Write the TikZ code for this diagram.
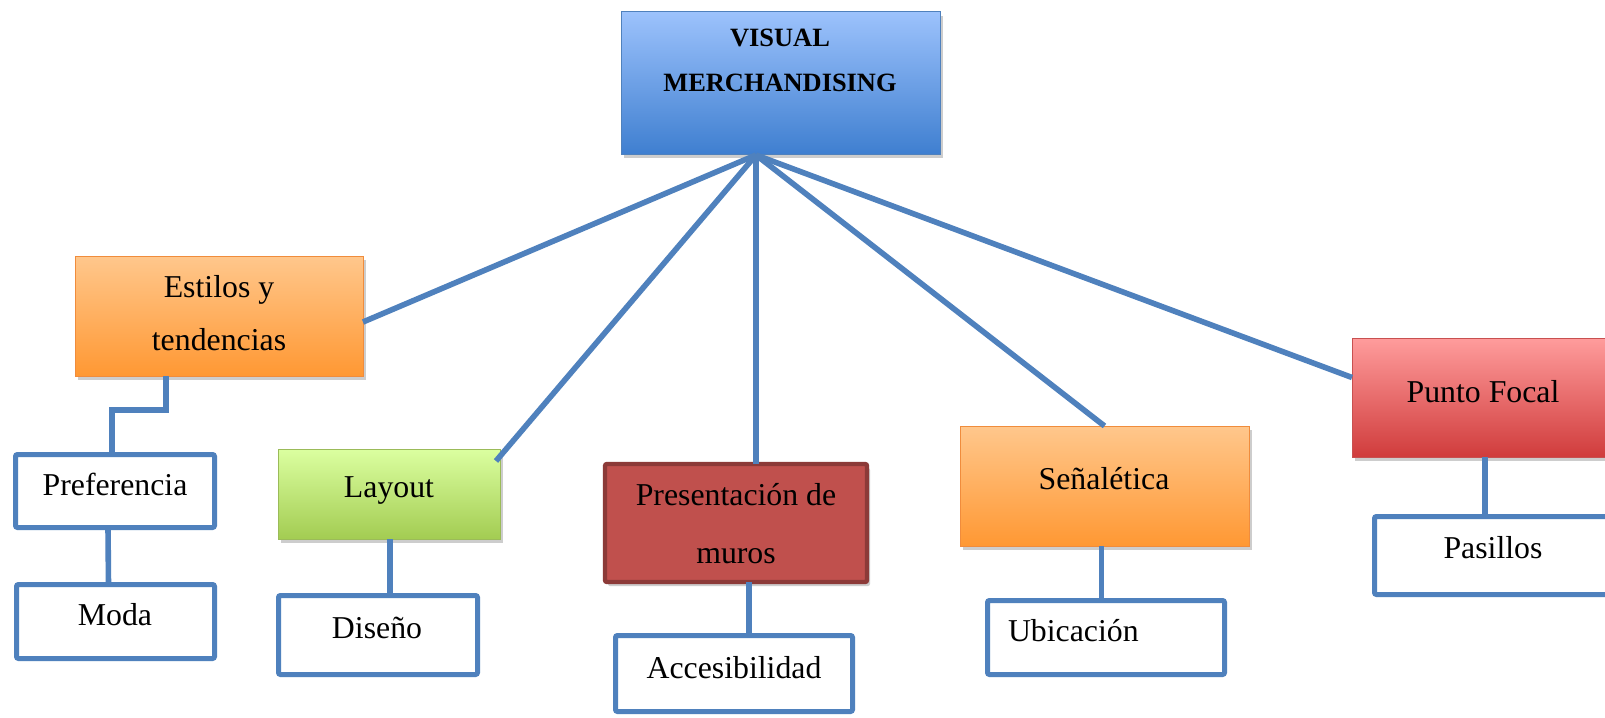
\documentclass[tikz,border=0pt]{standalone}
\usepackage{fontspec}
\setmainfont{Liberation Serif}
\usetikzlibrary{shadows,calc}
\definecolor{cblue}{HTML}{4F81BD}
\definecolor{vmtop}{HTML}{9CC2FC}
\definecolor{vmbot}{HTML}{3F7FD0}
\definecolor{ortop}{HTML}{FFC78C}
\definecolor{orbot}{HTML}{FF9833}
\definecolor{orline}{HTML}{F08C3C}
\definecolor{grtop}{HTML}{DBFFA0}
\definecolor{grbot}{HTML}{A3CC52}
\definecolor{grline}{HTML}{9BBB59}
\definecolor{prfill}{HTML}{C0504D}
\definecolor{prline}{HTML}{8C3A38}
\definecolor{pftop}{HTML}{FF9C9C}
\definecolor{pfbot}{HTML}{D03C3C}
\definecolor{pfline}{HTML}{C85050}
\begin{document}
\begin{tikzpicture}[x=0.5pt,y=-0.5pt,
  basebox/.style={rectangle,inner sep=0pt,outer sep=0pt},
  shad/.style={drop shadow={opacity=0.28,shadow xshift=1.5pt,shadow yshift=-2pt,fill=black!70}},
  wbox/.style={basebox,draw=cblue,line width=2.5pt,fill=white,rounded corners=1pt},
  lbl/.style={inner sep=0pt,outer sep=0pt,anchor=base,font=\fontsize{15.9}{19}\selectfont},
  mlbl/.style={inner sep=0pt,outer sep=0pt,anchor=center,align=center},
  conn/.style={draw=cblue,line width=2.8pt},
]
\fill[white] (0,0) rectangle (1605,717);
\clip (0,0) rectangle (1605,717);
\useasboundingbox (0,0) rectangle (1605,717);

% boxes
\node[basebox,shad,draw=cblue,line width=0.5pt,top color=vmtop,bottom color=vmbot,minimum width=159.5pt,minimum height=71pt] (vm) at (780.5,83) {};
\node[basebox,shad,draw=orline,line width=0.5pt,top color=ortop,bottom color=orbot,minimum width=144pt,minimum height=60pt] (est) at (219,316) {};
\node[basebox,shad,draw=grline,line width=0.5pt,top color=grtop,bottom color=grbot,minimum width=111pt,minimum height=45pt] (lay) at (389,494) {};
\node[basebox,shad,draw=prline,line width=2.2pt,fill=prfill,rounded corners=1pt,minimum width=131pt,minimum height=59pt] (pres) at (736,523) {};
\node[basebox,shad,draw=orline,line width=0.5pt,top color=ortop,bottom color=orbot,minimum width=144.5pt,minimum height=60pt] (sen) at (1104.5,486) {};
\node[basebox,shad,draw=pfline,line width=0.5pt,top color=pftop,bottom color=pfbot,minimum width=131pt,minimum height=59.5pt] (pf) at (1483,397.5) {};

\node[wbox,minimum width=99.5pt,minimum height=36.5pt] (pref) at (115,491) {};
\node[wbox,minimum width=99pt,minimum height=37pt] (moda) at (115.5,621.5) {};
\node[wbox,minimum width=99.5pt,minimum height=39.5pt] (dis) at (378,635) {};
\node[wbox,minimum width=118.5pt,minimum height=38pt] (acc) at (734,673.5) {};
\node[wbox,minimum width=118.5pt,minimum height=37pt] (ubi) at (1106,637.5) {};
\node[wbox,minimum width=118.5pt,minimum height=39pt] (pas) at (1493,555.5) {};

% connectors
\coordinate (hub) at (756,155);
\draw[conn] (hub) -- ($(est.east)+(0,6)$);
\draw[conn] (hub) -- ($(lay.north east)+(-4,12)$);
\draw[conn] (hub) -- (hub |- pres.north);
\draw[conn] (hub) -- (sen.north);
\draw[conn] (hub) -- ($(pf.west)+(0,-20)$);

\coordinate (e1) at (166,410);
\coordinate (e2) at (112,410);
\draw[conn] (est.south -| e1) -- (e1) -- (e2) -- (e2 |- pref.north);
\draw[conn] ([xshift=-3.5pt]pref.south) -- ([xshift=-3.5pt]moda.north);
\draw[conn] ([xshift=0.5pt]lay.south) -- ([xshift=0.5pt]lay.south |- dis.north);
\draw[conn] ([xshift=6.5pt]pres.south) -- ([xshift=6.5pt]pres.south |- acc.north);
\draw[conn] ([xshift=-1.5pt]sen.south) -- ([xshift=-1.5pt]sen.south |- ubi.north);
\draw[conn] ([xshift=1pt]pf.south) -- ([xshift=1pt]pf.south |- pas.north);

% labels
\node[mlbl,font=\fontsize{13.2}{22.5}\selectfont\bfseries] (vmt) at (780,60.5) {VISUAL\\MERCHANDISING};
\node[mlbl,font=\fontsize{15.9}{26.5}\selectfont] (estt) at (219,313.5) {Estilos y\\tendencias};
\node[mlbl,font=\fontsize{15.9}{29}\selectfont] (prest) at (736,524) {Presentación de\\muros};
\node[lbl] (preft) at (115,495) {Preferencia};
\node[lbl] (modat) at (115,625) {Moda};
\node[lbl] (layt) at (389,497) {Layout};
\node[lbl] (dist) at (377,638) {Diseño};
\node[lbl] (acct) at (734,678) {Accesibilidad};
\node[lbl] (sent) at (1104,489) {Señalética};
\node[lbl,anchor=base west] (ubit) at (1008,641) {Ubicación};
\node[lbl] (pft) at (1483,402) {Punto Focal};
\node[lbl] (past) at (1493,558) {Pasillos};
\end{tikzpicture}
\end{document}
